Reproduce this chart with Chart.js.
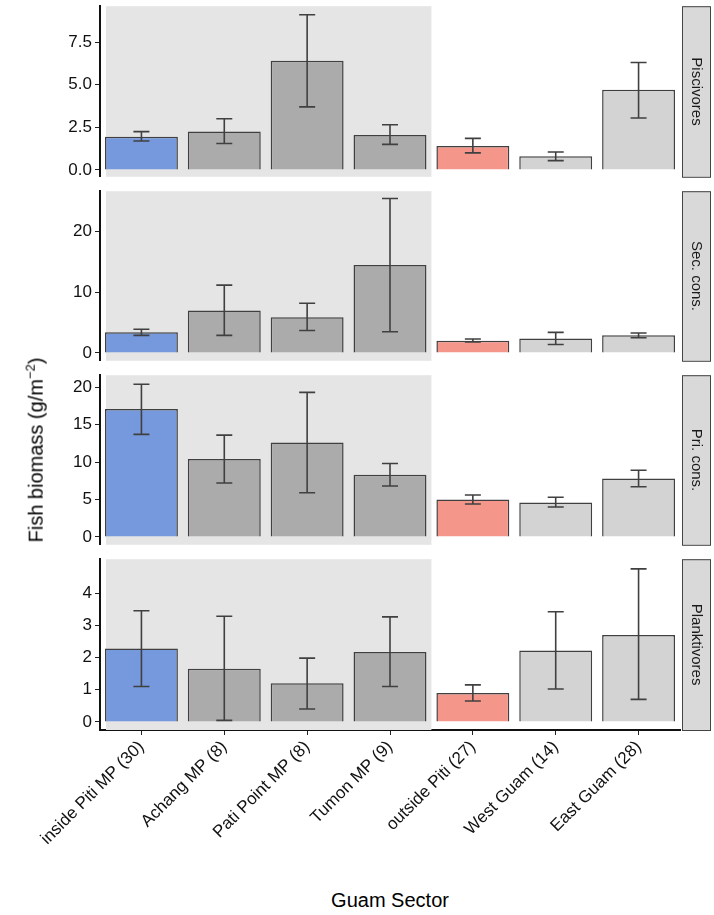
<!DOCTYPE html>
<html>
<head>
<meta charset="utf-8">
<script src="https://cdn.jsdelivr.net/npm/chart.js@4"></script>
<style>
  body { margin: 0; background: #fff; font-family: "Liberation Sans", Arial, sans-serif; }
  #wrap { position: relative; width: 714px; height: 915px; overflow: hidden; }
  .panel { position: absolute; left: 0; width: 714px; }
  #ytitle { position: absolute; left: 35px; top: 450px; transform: translate(-50%, -50%) rotate(-90deg);
            font-size: 20px; color: #000; white-space: nowrap; }
  #xtitle { position: absolute; left: 390px; top: 900px; transform: translate(-50%, -50%);
            font-size: 20px; color: #000; white-space: nowrap; }
</style>
</head>
<body>
<div id="wrap">
  <div class="panel" style="top:-7px;height:197px"><canvas id="c0"></canvas></div>
  <div class="panel" style="top:178px;height:196px"><canvas id="c1"></canvas></div>
  <div class="panel" style="top:362px;height:196px"><canvas id="c2"></canvas></div>
  <div class="panel" style="top:546px;height:334px"><canvas id="c3"></canvas></div>
  <div id="ytitle">Fish biomass (g/m<sup style="font-size:13px">−2</sup>)</div>
  <div id="xtitle">Guam Sector</div>
</div>
<script>
const categories = ['inside Piti MP (30)', 'Achang MP (8)', 'Pati Point MP (8)', 'Tumon MP (9)',
                    'outside Piti (27)', 'West Guam (14)', 'East Guam (28)'];
const groups = ['Piscivores', 'Sec. cons.', 'Pri. cons.', 'Planktivores'];

const piscMean = [1.95, 2.25, 6.4, 2.05, 1.4, 0.8, 4.7];
const piscLow  = [1.7, 1.55, 3.7, 1.5, 1.0, 0.55, 3.05];
const piscHigh = [2.25, 3.0, 9.1, 2.65, 1.85, 1.05, 6.3];

const secMean = [3.4, 7.0, 5.9, 14.5, 2.0, 2.4, 2.9];
const secLow  = [2.9, 2.9, 3.7, 3.5, 1.8, 1.4, 2.5];
const secHigh = [3.9, 11.2, 8.2, 25.5, 2.3, 3.4, 3.3];

const priMean = [17.1, 10.4, 12.6, 8.3, 5.0, 4.6, 7.8];
const priLow  = [13.7, 7.2, 5.9, 6.8, 4.4, 4.0, 6.7];
const priHigh = [20.4, 13.6, 19.3, 9.8, 5.6, 5.3, 8.9];

const plankMean = [2.28, 1.65, 1.2, 2.17, 0.9, 2.22, 2.7];
const plankLow  = [1.1, 0.05, 0.4, 1.1, 0.65, 1.02, 0.7];
const plankHigh = [3.45, 3.28, 1.98, 3.26, 1.15, 3.42, 4.75];

const yRanges = [[-0.4, 9.6], [-1.3, 26.7], [-1.05, 21.6], [-0.25, 5.05]];
const yTicks = [[0, 2.5, 5, 7.5], [0, 10, 20], [0, 5, 10, 15, 20], [0, 1, 2, 3, 4]];

const barColors = ['#7599dc', '#ababab', '#ababab', '#ababab', '#f4968a', '#d3d3d3', '#d3d3d3'];

const panelData = [
  [piscMean, piscLow, piscHigh],
  [secMean, secLow, secHigh],
  [priMean, priLow, priHigh],
  [plankMean, plankLow, plankHigh]
];

const backdrop = {
  id: 'backdrop',
  beforeDatasetsDraw(chart) {
    const { ctx, chartArea } = chart;
    const x = chart.scales.x;
    const step = x.getPixelForValue(1) - x.getPixelForValue(0);
    const right = x.getPixelForValue(3) + step / 2;
    ctx.save();
    ctx.fillStyle = '#e5e5e5';
    ctx.fillRect(chartArea.left + 6, chartArea.top, right - chartArea.left - 6, chartArea.bottom - chartArea.top);
    ctx.restore();
  }
};

const errorBars = {
  id: 'errorBars',
  afterDatasetsDraw(chart, args, opts) {
    const { ctx } = chart;
    const x = chart.scales.x, y = chart.scales.y;
    ctx.save();
    ctx.strokeStyle = '#404040';
    ctx.lineWidth = 1.6;
    opts.low.forEach((lo, i) => {
      const px = x.getPixelForValue(i);
      const y1 = y.getPixelForValue(lo), y2 = y.getPixelForValue(opts.high[i]);
      ctx.beginPath();
      ctx.moveTo(px, y1); ctx.lineTo(px, y2);
      ctx.moveTo(px - 8, y1); ctx.lineTo(px + 8, y1);
      ctx.moveTo(px - 8, y2); ctx.lineTo(px + 8, y2);
      ctx.stroke();
    });
    ctx.restore();
  }
};

const strip = {
  id: 'strip',
  afterDraw(chart, args, opts) {
    const { ctx, chartArea } = chart;
    const left = chartArea.right + 2, w = 28;
    ctx.save();
    ctx.fillStyle = '#d9d9d9';
    ctx.strokeStyle = '#444';
    ctx.lineWidth = 1;
    ctx.fillRect(left, chartArea.top, w, chartArea.bottom - chartArea.top);
    ctx.strokeRect(left + 0.5, chartArea.top + 0.5, w, chartArea.bottom - chartArea.top);
    ctx.translate(left + w / 2, (chartArea.top + chartArea.bottom) / 2);
    ctx.rotate(Math.PI / 2);
    ctx.fillStyle = '#1a1a1a';
    ctx.font = '15px "Liberation Sans", Arial, sans-serif';
    ctx.textAlign = 'center';
    ctx.textBaseline = 'middle';
    ctx.fillText(opts.label, 0, 0);
    ctx.restore();
  }
};

Chart.defaults.font.family = '"Liberation Sans", Arial, sans-serif';
Chart.defaults.font.size = 15;
Chart.defaults.color = '#1a1a1a';

groups.forEach((g, k) => {
  const [mean, low, high] = panelData[k];
  const last = k === groups.length - 1;
  new Chart(document.getElementById('c' + k), {
    type: 'bar',
    data: {
      labels: categories,
      datasets: [{
        data: mean,
        backgroundColor: barColors,
        borderColor: '#404040',
        borderWidth: 1.5,
        barPercentage: 0.88,
        categoryPercentage: 1
      }]
    },
    options: {
      responsive: true,
      maintainAspectRatio: false,
      animation: false,
      layout: { padding: { top: 0, bottom: 0, left: 0, right: 34 } },
      plugins: {
        legend: { display: false },
        tooltip: { enabled: false },
        errorBars: { low, high },
        strip: { label: g }
      },
      scales: {
        x: {
          display: last,
          offset: true,
          grid: { offset: false, drawOnChartArea: false, drawTicks: true, tickLength: 5, color: '#222' },
          border: { display: true, color: '#111', width: 2 },
          ticks: { minRotation: 45, maxRotation: 45, autoSkip: false, color: '#111', padding: 2, font: { size: 17 } },
          afterFit(s) { if (last) s.height = 150; }
        },
        y: {
          min: yRanges[k][0],
          max: yRanges[k][1],
          afterBuildTicks(s) { s.ticks = yTicks[k].map(v => ({ value: v })); },
          grid: { drawOnChartArea: false, drawTicks: true, tickLength: 5, color: '#222' },
          border: { display: true, color: '#111', width: 2 },
          ticks: {
            color: '#111',
            padding: 3,
            font: { size: 17 },
            callback: v => (k === 0 ? v.toFixed(1) : String(v))
          },
          afterFit(s) { s.width = 100; }
        }
      }
    },
    plugins: [backdrop, errorBars, strip]
  });
});
</script>
</body>
</html>
